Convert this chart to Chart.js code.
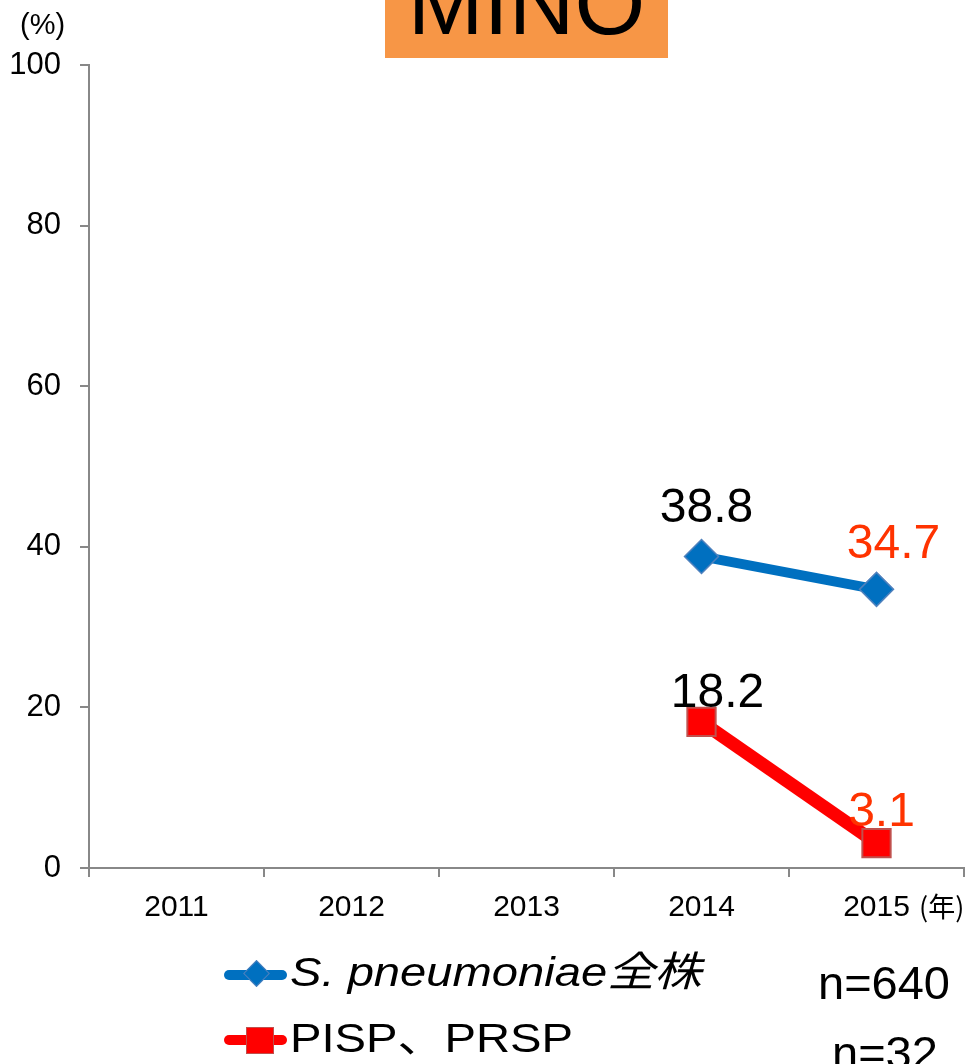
<!DOCTYPE html>
<html>
<head>
<meta charset="utf-8">
<script src="https://cdn.jsdelivr.net/npm/chart.js@4/dist/chart.umd.min.js"></script>
<style>
  body { margin: 0; background: #fff; overflow: hidden; }
  #wrap { position: relative; width: 970px; height: 1064px; overflow: hidden; font-family: "Liberation Sans", Arial, "Noto Sans CJK JP", sans-serif; }
  #myChart { position: absolute; left: 0; top: 0; }
  .txt { position: absolute; white-space: nowrap; color: #000; line-height: 1; }
  #title { position: absolute; left: 385px; top: -40px; width: 283px; height: 98px; background: #F79646; text-align: center; }
  #title span { display: block; font-size: 91px; line-height: 91px; margin-top: -3px; }
  .mk-line { position: absolute; height: 10px; border-radius: 5px; }
  .mk { position: absolute; }
</style>
</head>
<body>
<div id="wrap">
  <!-- canvas is a bit wider than the page: Chart.js keeps 22px free for the big point markers -->
  <canvas id="myChart" width="986" height="1064"></canvas>
  <div id="title"><span>MINO</span></div>
  <div class="txt" style="left:20px; top:10px; font-size:29px;">(%)</div>
  <div class="txt" style="left:919px; top:892px; font-size:27px; font-family:'Noto Sans CJK JP';">(年)</div>

  <div class="mk-line" style="left:224px; top:970px; width:63px; background:#0070C0;"></div>
  <div class="mk" style="left:247px; top:964px; width:17px; height:17px; background:#0070C0; border:1px solid #4F81BD; transform:rotate(45deg);"></div>
  <div class="txt" style="left:290px; top:952px; font-size:41px; font-style:italic; transform-origin:0 0; transform:scaleX(1.15);">S. pneumoniae全株</div>
  <div class="txt" style="left:818px; top:959px; font-size:47px;">n=640</div>

  <div class="mk-line" style="left:224px; top:1035px; width:63px; background:#FF0000;"></div>
  <div class="mk" style="left:246px; top:1027px; width:26px; height:25px; background:#FF0000; border:1px solid #C0504D;"></div>
  <div class="txt" style="left:290px; top:1018px; font-size:41px; transform-origin:0 0; transform:scaleX(1.15);">PISP、PRSP</div>
  <div class="txt" style="left:832px; top:1029px; font-size:47px;">n=32</div>
</div>
<script>
const years = ["2011", "2012", "2013", "2014", "2015"];
const allStrains = [null, null, null, 38.8, 34.7];
const pispPrsp = [null, null, null, 18.2, 3.1];
const yTicks = [0, 20, 40, 60, 80, 100];

const fontFamily = '"Liberation Sans", Arial, sans-serif';

// label colour and offset (dx, dy from point) for each value
const labelStyle = [
  [null, null, null, { c: "#000", dx: 5, dy: -34 }, { c: "#FF3300", dx: 17, dy: -31 }],
  [null, null, null, { c: "#000", dx: 16, dy: -15 }, { c: "#FF3300", dx: 5, dy: -17 }],
];

const valueLabels = {
  id: "valueLabels",
  afterDatasetsDraw(chart) {
    const ctx = chart.ctx;
    ctx.save();
    ctx.font = "48px " + fontFamily;
    ctx.textAlign = "center";
    ctx.textBaseline = "alphabetic";
    chart.data.datasets.forEach((ds, i) => {
      const meta = chart.getDatasetMeta(i);
      meta.data.forEach((pt, j) => {
        const v = ds.data[j];
        if (v === null) return;
        const st = labelStyle[i][j];
        ctx.fillStyle = st.c;
        ctx.fillText(v.toFixed(1), pt.x + st.dx, pt.y + st.dy);
      });
    });
    ctx.restore();
  },
};

const ctx = document.getElementById("myChart").getContext("2d");
const myChart = new Chart(ctx, {
  type: "line",
  data: {
    labels: years,
    datasets: [
      {
        label: "S. pneumoniae全株",
        data: allStrains,
        borderColor: "#0070C0",
        borderWidth: 10,
        pointStyle: "rectRot",
        pointRadius: 17,
        pointBackgroundColor: "#0070C0",
        pointBorderColor: "#4F81BD",
        pointBorderWidth: 1.5,
      },
      {
        label: "PISP、PRSP",
        data: pispPrsp,
        borderColor: "#FF0000",
        borderWidth: 13,
        pointStyle: "rect",
        pointRadius: 20,
        pointBackgroundColor: "#FF0000",
        pointBorderColor: "#C0504D",
        pointBorderWidth: 2,
      },
    ],
  },
  options: {
    responsive: false,
    devicePixelRatio: 1,
    animation: false,
    layout: { padding: { top: 65, right: 6, bottom: 136, left: 0 } },
    plugins: { legend: { display: false }, tooltip: { enabled: false } },
    scales: {
      x: {
        offset: true,
        grid: { offset: true, drawOnChartArea: false, tickLength: 9, color: "#888", lineWidth: 2 },
        border: { color: "#888", width: 2 },
        ticks: { color: "#000", font: { size: 30, family: fontFamily }, padding: 13, maxRotation: 0 },
        afterFit: (s) => { s.height = 60; },
      },
      y: {
        min: 0,
        max: 100,
        afterBuildTicks: (s) => { s.ticks = yTicks.map((v) => ({ value: v })); },
        grid: { drawOnChartArea: false, tickLength: 9, color: "#888", lineWidth: 2 },
        border: { color: "#888", width: 2 },
        ticks: { color: "#000", font: { size: 31, family: fontFamily }, padding: 19 },
        afterFit: (s) => { s.width = 89; },
      },
    },
  },
  plugins: [valueLabels],
});
</script>
</body>
</html>
